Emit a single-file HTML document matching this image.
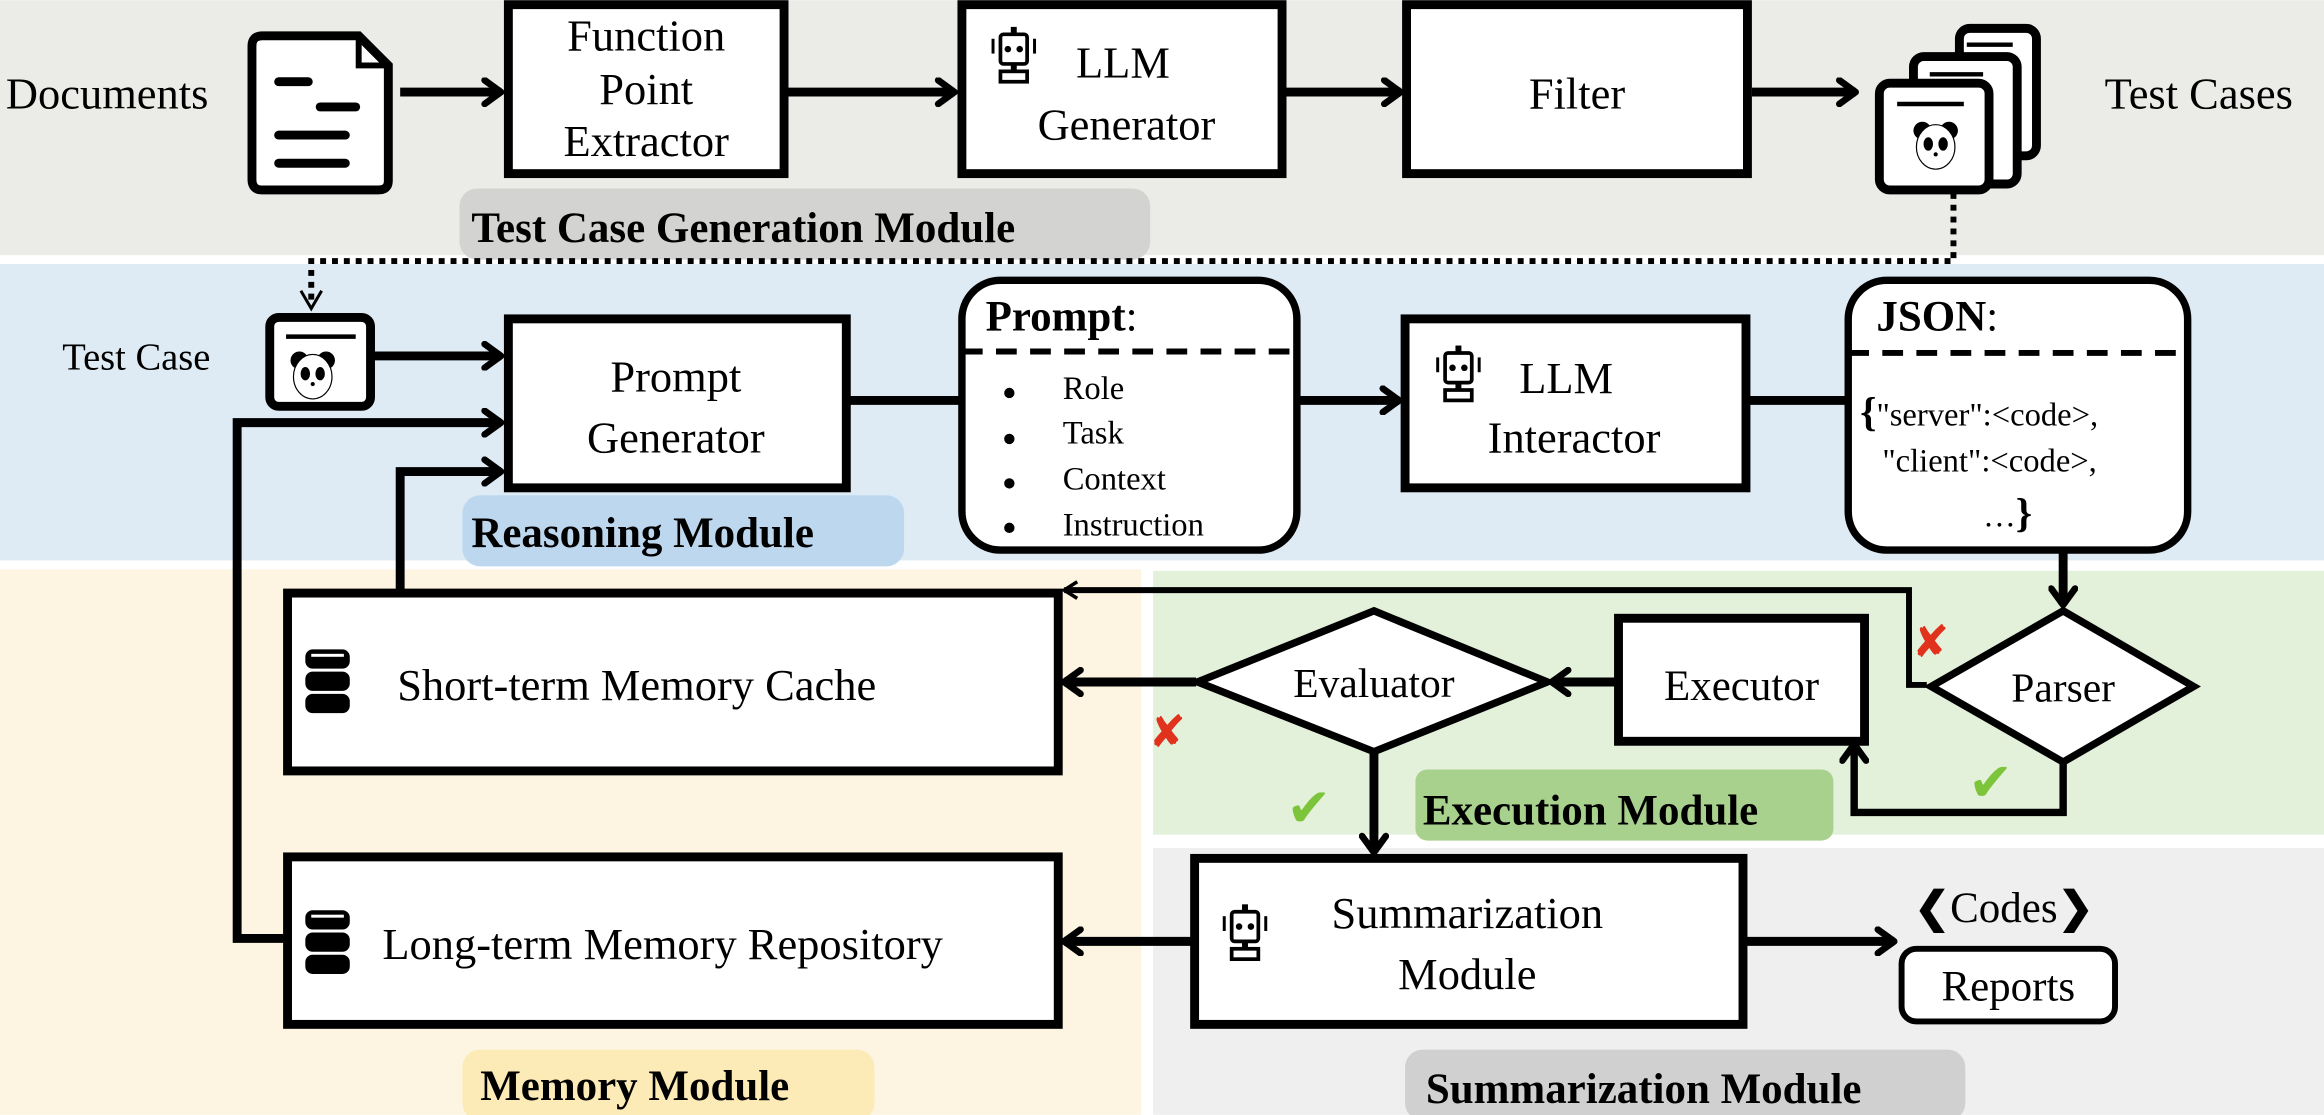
<!DOCTYPE html>
<html><head><meta charset="utf-8"><style>
html,body{margin:0;padding:0;background:#fff;}
svg{display:block;}
svg text{font-family:"Liberation Serif","Times New Roman",Times,serif;}
</style></head><body>
<svg width="2324" height="1115" viewBox="0 0 1568 752" xmlns="http://www.w3.org/2000/svg" font-family="'Liberation Serif', 'Times New Roman', serif">
<defs>
<marker id="ar" viewBox="0 0 20 20" refX="17" refY="10" markerWidth="20" markerHeight="20" markerUnits="userSpaceOnUse" orient="auto">
<polyline points="6,2 17,10 6,18" fill="none" stroke="#000" stroke-width="4.5" stroke-linecap="round" stroke-linejoin="round"/>
</marker>
<marker id="ars" viewBox="0 0 20 20" refX="17" refY="10" markerWidth="16" markerHeight="16" markerUnits="userSpaceOnUse" orient="auto">
<polyline points="6,3 17,10 6,17" fill="none" stroke="#000" stroke-width="3"/>
</marker>
<g id="robot">
<rect x="-2" y="-22" width="4" height="5" fill="#000"/>
<rect x="-9" y="-17" width="18" height="20" rx="2" fill="#fff" stroke="#000" stroke-width="2.5"/>
<circle cx="-4" cy="-7" r="2.2"/><circle cx="4" cy="-7" r="2.2"/>
<rect x="-15" y="-14" width="2" height="10"/><rect x="13" y="-14" width="2" height="10"/>
<rect x="-2" y="3" width="4" height="5"/>
<rect x="-9" y="8" width="18" height="7" fill="#fff" stroke="#000" stroke-width="2.5"/>
</g>
<g id="panda">
<circle cx="-9" cy="-11" r="6"/><circle cx="9" cy="-11" r="6"/>
<ellipse cx="0" cy="0" rx="13" ry="15" fill="#fff" stroke="#000" stroke-width="0.8"/>
<ellipse cx="-5" cy="-2" rx="3.2" ry="4.5"/><ellipse cx="5" cy="-2" rx="3.2" ry="4.5"/>
<circle cx="0" cy="5" r="1.4"/>
</g>
<g id="db">
<rect x="-15" y="-22" width="30" height="13" rx="5"/>
<rect x="-15" y="-7" width="30" height="13" rx="5"/>
<rect x="-15" y="8" width="30" height="13" rx="5"/>
<rect x="-11" y="-19" width="22" height="2" fill="#fff"/>
</g>
</defs>

<rect x="0" y="0" width="1568" height="172" fill="#ebebe8"/>
<rect x="0" y="178" width="1568" height="200" fill="#deebf5"/>
<rect x="0" y="384" width="770" height="368" fill="#fdf5e2"/>
<rect x="778" y="385" width="790" height="178" fill="#e3f0da"/>
<rect x="778" y="572" width="790" height="180" fill="#efefef"/>

<rect x="310" y="127" width="466" height="48" rx="12" fill="#d3d3d1"/>
<text x="318" y="163" font-size="29" font-weight="bold">Test Case Generation Module</text>
<rect x="312" y="334" width="298" height="48" rx="12" fill="#bdd7ee"/>
<text x="318" y="369" font-size="29" font-weight="bold">Reasoning Module</text>
<rect x="955" y="519" width="282" height="48" rx="8" fill="#a9d18e"/>
<text x="960" y="556" font-size="29" font-weight="bold">Execution Module</text>
<rect x="312" y="708" width="278" height="48" rx="12" fill="#fcebb6"/>
<text x="324" y="742" font-size="29" font-weight="bold">Memory Module</text>
<rect x="948" y="708" width="378" height="48" rx="12" fill="#d0d0d0"/>
<text x="962" y="744" font-size="29" font-weight="bold">Summarization Module</text>

<text x="4" y="73" font-size="30">Documents</text>
<path d="M177,24 H242 L262,44 V122 Q262,128 255,128 H177 Q170,128 170,121 V31 Q170,24 177,24 Z" fill="#fff" stroke="#000" stroke-width="6"/>
<path d="M242,24 V44 H262" fill="none" stroke="#000" stroke-width="4"/>
<g stroke="#000" stroke-width="6" stroke-linecap="round">
<line x1="188" y1="55" x2="208" y2="55"/><line x1="216" y1="72" x2="240" y2="72"/>
<line x1="188" y1="91" x2="233" y2="91"/><line x1="188" y1="110" x2="233" y2="110"/>
</g>

<rect x="343" y="3" width="186" height="114" fill="#fff" stroke="#000" stroke-width="6"/>
<text x="436" y="34" font-size="30" text-anchor="middle">Function</text>
<text x="436" y="70" font-size="30" text-anchor="middle">Point</text>
<text x="436" y="105" font-size="30" text-anchor="middle">Extractor</text>

<rect x="649" y="3" width="216" height="114" fill="#fff" stroke="#000" stroke-width="6"/>
<use href="#robot" x="684" y="40"/>
<text x="726" y="52" font-size="30">LLM</text>
<text x="760" y="94" font-size="30" text-anchor="middle">Generator</text>

<rect x="949" y="3" width="230" height="114" fill="#fff" stroke="#000" stroke-width="6"/>
<text x="1064" y="73" font-size="30" text-anchor="middle">Filter</text>

<g fill="#fff" stroke="#000" stroke-width="6">
<rect x="1322" y="19" width="52" height="86" rx="7"/>
<rect x="1291" y="38" width="70" height="86" rx="7"/>
<rect x="1268" y="56" width="74" height="72" rx="7"/>
</g>
<g stroke="#000" stroke-width="3"><line x1="1327" y1="30" x2="1358" y2="30"/><line x1="1302" y1="50" x2="1338" y2="50"/><line x1="1280" y1="70" x2="1325" y2="70"/></g>
<use href="#panda" x="1306" y="99"/>
<text x="1420" y="73" font-size="30">Test Cases</text>

<g stroke="#000" stroke-width="6" fill="none">
<line x1="270" y1="62" x2="338" y2="62" marker-end="url(#ar)"/>
<line x1="532" y1="62" x2="644" y2="62" marker-end="url(#ar)"/>
<line x1="868" y1="62" x2="945" y2="62" marker-end="url(#ar)"/>
<line x1="1182" y1="62" x2="1252" y2="62" marker-end="url(#ar)"/>
</g>
<path d="M1318,130 V176 H210 V205" fill="none" stroke="#000" stroke-width="4" stroke-dasharray="4,4"/>
<polyline points="203,196 210,208 217,196" fill="none" stroke="#000" stroke-width="2"/>

<text x="42" y="249" font-size="26">Test Case</text>
<rect x="182" y="214" width="68" height="60" rx="6" fill="#fff" stroke="#000" stroke-width="6"/>
<line x1="193" y1="227" x2="240" y2="227" stroke="#000" stroke-width="3"/>
<use href="#panda" x="211" y="254"/>

<rect x="343" y="215" width="228" height="114" fill="#fff" stroke="#000" stroke-width="6"/>
<text x="456" y="264" font-size="30" text-anchor="middle">Prompt</text>
<text x="456" y="305" font-size="30" text-anchor="middle">Generator</text>

<rect x="649" y="189" width="226" height="182" rx="26" fill="#fff" stroke="#000" stroke-width="5"/>
<line x1="649" y1="237" x2="875" y2="237" stroke="#000" stroke-width="4" stroke-dasharray="14,9"/>
<text x="665" y="223" font-size="29"><tspan font-weight="bold">Prompt</tspan>:</text>
<g font-size="22">
<circle cx="681" cy="265" r="3.5"/><text x="717" y="269" font-size="22">Role</text>
<circle cx="681" cy="296" r="3.5"/><text x="717" y="299" font-size="22">Task</text>
<circle cx="681" cy="326" r="3.5"/><text x="717" y="330" font-size="22">Context</text>
<circle cx="681" cy="356" r="3.5"/><text x="717" y="361" font-size="22">Instruction</text>
</g>

<rect x="948" y="215" width="230" height="114" fill="#fff" stroke="#000" stroke-width="6"/>
<use href="#robot" x="984" y="255"/>
<text x="1025" y="265" font-size="30">LLM</text>
<text x="1062" y="305" font-size="30" text-anchor="middle">Interactor</text>

<rect x="1247" y="189" width="229" height="182" rx="26" fill="#fff" stroke="#000" stroke-width="5"/>
<line x1="1247" y1="238" x2="1476" y2="238" stroke="#000" stroke-width="4" stroke-dasharray="14,9"/>
<text x="1266" y="223" font-size="29"><tspan font-weight="bold">JSON</tspan>:</text>
<text x="1255" y="287" font-size="22"><tspan font-size="28" font-weight="bold">{</tspan>"server":&lt;code&gt;,</text>
<text x="1270" y="318" font-size="22">"client":&lt;code&gt;,</text>
<text x="1338" y="355" font-size="22">…<tspan font-size="28" font-weight="bold">}</tspan></text>

<g stroke="#000" stroke-width="6" fill="none">
<line x1="252" y1="240" x2="338" y2="240" marker-end="url(#ar)"/>
<line x1="571" y1="270" x2="649" y2="270"/>
<line x1="875" y1="270" x2="944" y2="270" marker-end="url(#ar)"/>
<line x1="1178" y1="270" x2="1247" y2="270"/>
<line x1="1392" y1="371" x2="1392" y2="408" marker-end="url(#ar)"/>
<polyline points="192,633 160,633 160,285 338,285" marker-end="url(#ar)"/>
<polyline points="270,398 270,318 338,318" marker-end="url(#ar)"/>
<polyline points="1300,462 1288,462 1288,398 718,398" stroke-width="4" marker-end="url(#ars)"/>
<polyline points="1392,514 1392,548 1251,548 1251,502" stroke-width="5" marker-end="url(#ar)"/>
<line x1="1090" y1="460" x2="1047" y2="460" marker-end="url(#ar)"/>
<line x1="807" y1="460" x2="718" y2="460" marker-end="url(#ar)"/>
<line x1="927" y1="506" x2="927" y2="575" marker-end="url(#ar)"/>
<line x1="805" y1="635" x2="718" y2="635" marker-end="url(#ar)"/>
<line x1="1177" y1="635" x2="1278" y2="635" marker-end="url(#ar)"/>
</g>

<polygon points="1392,412 1480,463 1392,514 1303,463" fill="#fff" stroke="#000" stroke-width="5"/>
<text x="1392" y="473" font-size="28" text-anchor="middle">Parser</text>
<rect x="1092" y="417" width="166" height="83" fill="#fff" stroke="#000" stroke-width="6"/>
<text x="1175" y="472" font-size="29" text-anchor="middle">Executor</text>
<polygon points="927,412 1044,460 927,507 808,460" fill="#fff" stroke="#000" stroke-width="5"/>
<text x="927" y="470" font-size="28" text-anchor="middle">Evaluator</text>

<text x="1290" y="443" font-size="30" style="fill:#e0321c;font-family:'DejaVu Sans',sans-serif" font-weight="bold">✘</text>
<text x="775" y="504" font-size="30" style="fill:#e0321c;font-family:'DejaVu Sans',sans-serif" font-weight="bold">✘</text>
<text x="1328" y="540" font-size="36" style="fill:#7cc43a;font-family:'DejaVu Sans',sans-serif" font-weight="bold">✔</text>
<text x="868" y="557" font-size="36" style="fill:#7cc43a;font-family:'DejaVu Sans',sans-serif" font-weight="bold">✔</text>

<rect x="194" y="400" width="520" height="120" fill="#fff" stroke="#000" stroke-width="6"/>
<use href="#db" x="221" y="460"/>
<text x="268" y="472" font-size="30">Short-term Memory Cache</text>
<rect x="194" y="578" width="520" height="113" fill="#fff" stroke="#000" stroke-width="6"/>
<use href="#db" x="221" y="636"/>
<text x="258" y="647" font-size="30">Long-term Memory Repository</text>

<rect x="806" y="579" width="370" height="112" fill="#fff" stroke="#000" stroke-width="6"/>
<use href="#robot" x="840" y="632"/>
<text x="990" y="626" font-size="30" text-anchor="middle">Summarization</text>
<text x="990" y="667" font-size="30" text-anchor="middle">Module</text>
<rect x="1283" y="640" width="144" height="49" rx="10" fill="#fff" stroke="#000" stroke-width="4"/>
<text x="1355" y="675" font-size="29" text-anchor="middle">Reports</text>
<text x="1352" y="622" font-size="29" text-anchor="middle"><tspan font-weight="bold">❮</tspan>Codes<tspan font-weight="bold">❯</tspan></text>
</svg>
</body></html>
